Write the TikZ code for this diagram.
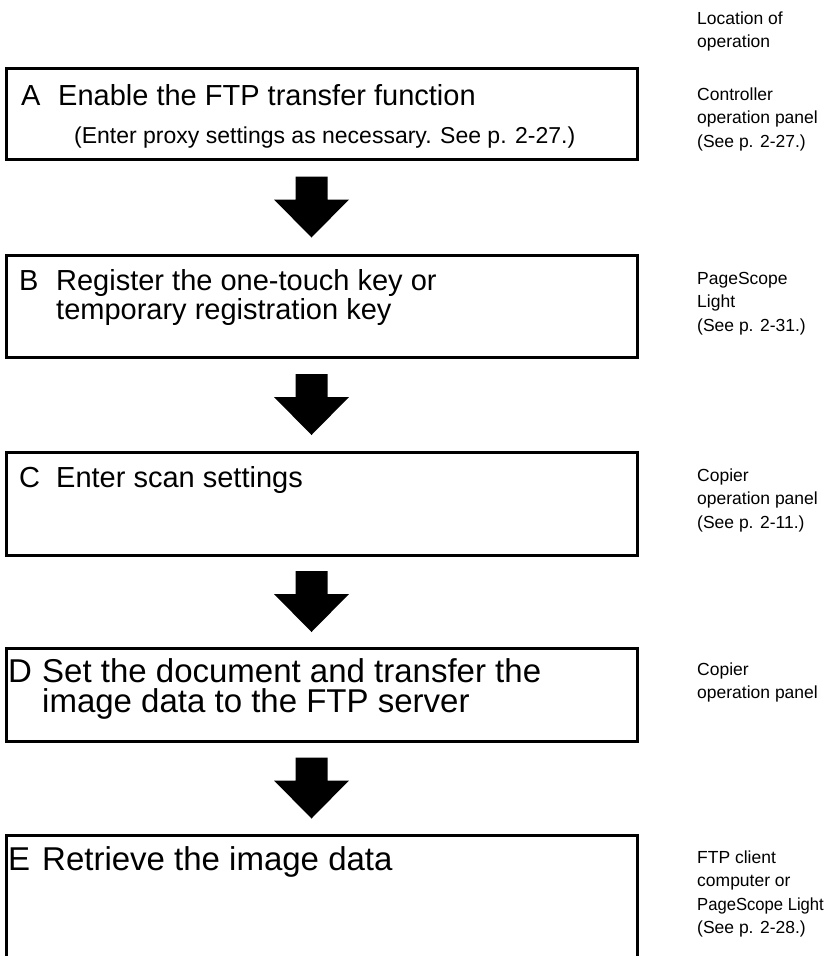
\documentclass[tikz,border=0pt]{standalone}
\usepackage{fontspec}
\setmainfont{Liberation Sans}
\usetikzlibrary{calc}
\tikzset{
  box/.style={draw, line width=3pt, rectangle, minimum width=631pt, inner sep=0pt, outer sep=0pt, anchor=north west},
  ttl/.style={anchor=base west, inner sep=0pt, font=\fontsize{29}{29}\selectfont, align=left},
  bigttl/.style={anchor=base west, inner sep=0pt, font=\fontsize{33}{30}\selectfont, align=left},
  sub/.style={anchor=base west, inner sep=0pt, font=\fontsize{23}{26}\selectfont},
  loc/.style={anchor=base west, inner sep=0pt, font=\fontsize{17.5}{23.5}\selectfont, align=left},
  dnarrow/.pic={\fill[black] (-16,-30.5) -- (16,-30.5) -- (16,-7.5) -- (37.5,-7.5) -- (0,30.5) -- (-37.5,-7.5) -- (-16,-7.5) -- cycle;}
}
\newcommand{\stepletter}[1]{\makebox[37pt][l]{#1}}
\newcommand{\bigletter}[1]{\makebox[34pt][l]{#1}}
\begin{document}
\begin{tikzpicture}[x=1pt,y=-1pt]
\useasboundingbox (0,0) rectangle (824,956);
\clip (0,0) rectangle (824,956);
% boxes
\node[box, minimum height=91pt]  (A) at (6,68)  {};
\node[box, minimum height=102pt] (B) at (6,255) {};
\node[box, minimum height=103pt] (C) at (6,452) {};
\node[box, minimum height=93pt]  (D) at (6,648) {};
\node[box, minimum height=200pt] (E) at (6,835) {};
% titles (base anchor = baseline of the last line)
\node[ttl] (At) at (21,105) {\stepletter{A}Enable the FTP transfer function};
\node[sub] (As) at (74,143) {(Enter proxy settings as necessary. See p. 2-27.)};
\node[ttl] (Bt) at (19,319) {\stepletter{B}Register the one-touch key or\\\stepletter{}temporary registration key};
\node[ttl] (Ct) at (19,487) {\stepletter{C}Enter scan settings};
\node[bigttl] (Dt) at (8,712) {\bigletter{D}Set the document and transfer the\\\bigletter{}image data to the FTP server};
\node[bigttl] (Et) at (8,870) {\bigletter{E}Retrieve the image data};
% location column
\node[loc] (L0) at (697,47.5)  {Location of\\operation};
\node[loc] (LA) at (697,147) {Controller\\operation panel\\(See p. 2-27.)};
\node[loc] (LB) at (697,331) {PageScope\\Light\\(See p. 2-31.)};
\node[loc] (LC) at (697,528) {Copier\\operation panel\\(See p. 2-11.)};
\node[loc] (LD) at (697,698.5) {Copier\\operation panel};
\node[loc] (LE) at (697,933.5) {FTP client\\computer or\\\scalebox{0.95}[1]{PageScope Light}\\(See p. 2-28.)};
% arrows
\pic at ($(A.south)!0.5!(B.north)+(-10,0)$) {dnarrow};
\pic at ($(B.south)!0.5!(C.north)+(-10,0)$) {dnarrow};
\pic at ($(C.south)!0.5!(D.north)+(-10,0)$) {dnarrow};
\pic at ($(D.south)!0.5!(E.north)+(-10,0)$) {dnarrow};
\end{tikzpicture}
\end{document}
